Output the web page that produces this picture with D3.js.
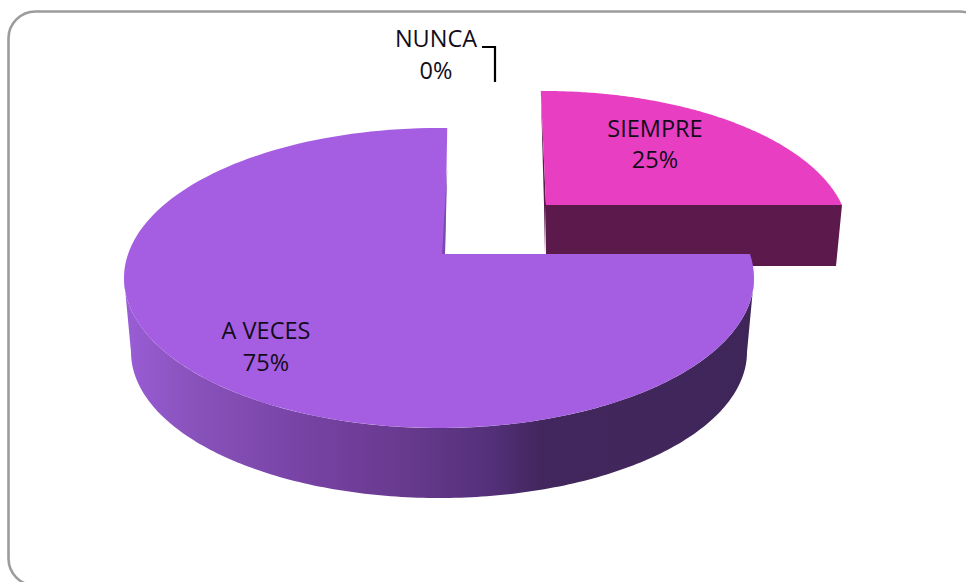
<!DOCTYPE html>
<html><head><meta charset="utf-8">
<script src="https://cdn.jsdelivr.net/npm/d3@7/dist/d3.min.js"></script>
<style>html,body{margin:0;padding:0;background:#fff;overflow:hidden}svg{display:block}
text{font-family:"Open Sans",sans-serif;font-size:23.5px;fill:#120c1a;text-anchor:middle}</style>
</head><body><svg id="c" width="966" height="582"></svg>
<script>
const categories = ["SIEMPRE", "A VECES", "NUNCA"];
const values = [25, 75, 0];
const colors = ["#e83fc2", "#a55ee2", "#8a8a8a"];
const sideColors = ["#5c1a4c", "#42275e", "#555555"];

const svg = d3.select("#c");
const rad = d => d * Math.PI / 180;
const pie = d3.pie().sort(null).startAngle(0).endAngle(2 * Math.PI);
const arcs = pie(values);
const line = d3.line();

// Projection of the tilted pie: each exploded slice has an apex and a rim ellipse.
const geomSiempre = {apex:[546,205], cx:544, cy:236, rx:305, ry:145, from:rad(-0.6), to:rad(77.7)};
const geomVeces   = {apex:[445,254], cx:439, cy:278, rx:315, ry:150, from:rad(80.8), to:rad(361.5)};
const rimPoints = (g, a) => {
  const t = d3.scaleLinear().domain([a.startAngle, a.endAngle]).range([g.from, g.to]);
  return d3.range(0, 1.0001, 1 / 160).map(k => {
    const p = t(a.startAngle + k * (a.endAngle - a.startAngle));
    return [g.cx + g.rx * Math.sin(p), g.cy - g.ry * Math.cos(p)];
  });
};

// Frame
svg.append("rect").attr("x",8.5).attr("y",11.5).attr("width",978).attr("height",574).attr("rx",27)
   .attr("fill","#fff").attr("stroke","#9c9c9c").attr("stroke-width",2.6);

// Side gradient
const grad = svg.append("defs").append("linearGradient").attr("id","side")
  .attr("gradientUnits","userSpaceOnUse").attr("x1",124).attr("x2",754).attr("y1",0).attr("y2",0);
[[0,"#9a5dd6"],[0.1,"#8a53bd"],[0.28,"#7843a5"],[0.44,"#683a8f"],[0.58,"#54307a"],[0.66,"#42275e"],[1,"#3f2659"]]
  .forEach(([o,c]) => grad.append("stop").attr("offset",o).attr("stop-color",c));

// SIEMPRE (exploded slice, behind)
const gs = geomSiempre, sRim = rimPoints(gs, arcs[0]);
const sEnd = sRim[sRim.length - 1], sStart = sRim[0];
svg.append("path").attr("fill",sideColors[0])
  .attr("d", line([gs.apex, sEnd, [sEnd[0]-6, sEnd[1]+61], [gs.apex[0], sEnd[1]+61]]) + "Z");
svg.append("path").attr("fill",sideColors[0])
  .attr("d", line([sStart, gs.apex, [gs.apex[0]-1, gs.apex[1]+50], [gs.apex[0]-2, gs.apex[1]]]) + "Z");
svg.append("path").attr("fill",colors[0])
  .attr("d", line([gs.apex, ...sRim]) + "Z");

// A VECES outer wall: top rim lower half to a lower, slightly narrower rim
const gv = geomVeces;
const lower = d3.range(90, 270.01, 1).map(d => [gv.cx + 315 * Math.sin(rad(d)), gv.cy - 150 * Math.cos(rad(d))]);
const depth = d3.range(270, 89.99, -1).map(d => [gv.cx + 308 * Math.sin(rad(d)), gv.cy + 74 - 146 * Math.cos(rad(d))]);
svg.append("path").attr("fill","url(#side)").attr("d", line([...lower, ...depth]) + "Z");

// A VECES top face
const vRim = rimPoints(gv, arcs[1]);
const vEnd = vRim[vRim.length - 1];
svg.append("path").attr("fill",colors[1]).attr("d", line([gv.apex, ...vRim]) + "Z");
svg.append("path").attr("fill","#7f47b0")
  .attr("d", line([[vEnd[0], vEnd[1]+40], gv.apex, [gv.apex[0]-3, gv.apex[1]]]) + "Z");

// Labels
const labelPos = [[655,129,160],[266,331,363],[436,39,71]];
const labelValue = v => v + "%";
categories.forEach((c,i) => {
  const g = svg.append("g");
  g.append("text").attr("x",labelPos[i][0]).attr("y",labelPos[i][1]+8).text(c);
  g.append("text").attr("x",labelPos[i][0]).attr("y",labelPos[i][2]+8).text(labelValue(values[i]));
});

// Leader for the zero slice
svg.append("path").attr("fill","none").attr("stroke","#000").attr("stroke-width",2.2)
  .attr("d", line([[482,47],[495,47],[495,82]]));
</script></body></html>
